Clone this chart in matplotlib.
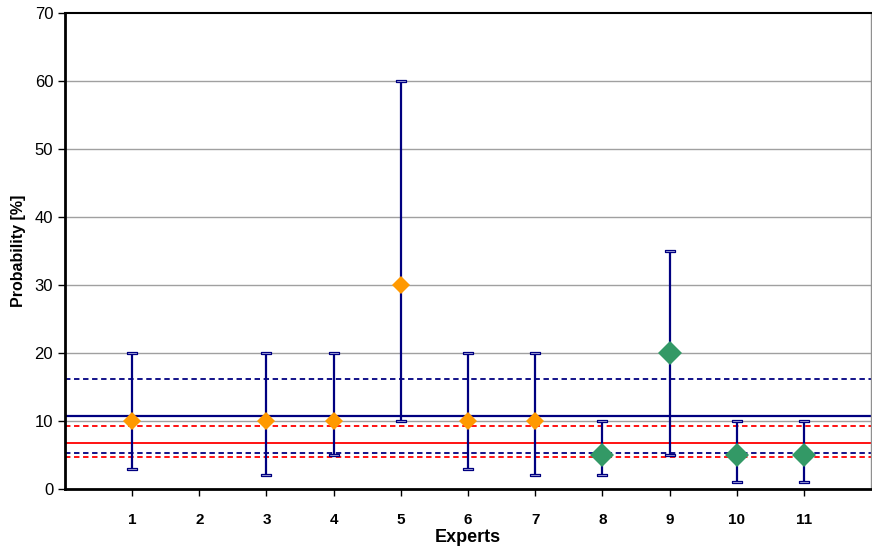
import matplotlib.pyplot as plt
import numpy as np
from matplotlib.path import Path

plt.rcParams['font.family'] = ['Liberation Sans', 'DejaVu Sans']

# expert estimates (most likely value, lower, upper), expert 2 gave none
experts = [1, 3, 4, 5, 6, 7, 8, 9, 10, 11]
best = [10, 10, 10, 30, 10, 10, 5, 20, 5, 5]
low = [3, 2, 5, 10, 3, 2, 2, 5, 1, 1]
high = [20, 20, 20, 60, 20, 20, 10, 35, 10, 10]
group = ['a', 'a', 'a', 'a', 'a', 'a', 'b', 'b', 'b', 'b']

# aggregated values
navy_mean = 10.74
navy_bounds = [16.18, 5.29]
red_mean = 6.81
red_bounds = [9.26, 4.75]

x_labels = [str(i) for i in range(1, 12)]
y_ticks = [0, 10, 20, 30, 40, 50, 60, 70]

navy = '#000080'
fig = plt.figure(figsize=(8.72, 5.49), dpi=100)
ax = fig.add_axes([0.0745, 0.1093, 0.9244, 0.867])

ax.set_xlim(0, 12)
ax.set_ylim(0, 70)

for y in y_ticks[1:-1]:
    ax.axhline(y, color='#a0a0a0', lw=1, zorder=0)

ax.axhline(navy_mean, color=navy, lw=1.6, zorder=1)
for b in navy_bounds:
    ax.axhline(b, color=navy, lw=1.3, ls=(0, (3, 2)), zorder=1)
ax.axhline(red_mean, color='#ff0000', lw=1.3, zorder=1)
for b in red_bounds:
    ax.axhline(b, color='#ff0000', lw=1.3, ls=(0, (3, 2)), zorder=1)

ex = np.array(experts)
ax.vlines(ex, low, high, color=navy, lw=1.6, zorder=2)

cap = Path([(-1, -0.2), (1, -0.2), (1, 0.2), (-1, 0.2), (-1, -0.2)])
ax.scatter(ex, low, marker=cap, s=55, facecolor='#c0c0e8', edgecolor=navy,
           linewidth=0.9, zorder=3)
ax.scatter(ex, high, marker=cap, s=55, facecolor='#c0c0e8', edgecolor=navy,
           linewidth=0.9, zorder=3)

g = np.array(group)
b_ = np.array(best)
ax.plot(ex[g == 'a'], b_[g == 'a'], 'D', color='#ff9900', ms=9.4, mew=0, zorder=4)
ax.plot(ex[g == 'b'], b_[g == 'b'], 'D', color='#339966', ms=12.2, mew=0, zorder=4)

ax.set_xticks(range(1, 12))
ax.set_xticklabels(x_labels, fontweight='bold', fontsize=11)
ax.set_yticks(y_ticks)
ax.tick_params(axis='y', labelsize=12, length=5, width=1, direction='out')
ax.tick_params(axis='x', length=5, width=1, direction='out', pad=12)

ax.spines['left'].set_linewidth(2)
ax.spines['bottom'].set_linewidth(2)
ax.spines['top'].set_linewidth(1.5)
ax.spines['right'].set_color('#909090')
ax.spines['right'].set_linewidth(1)

ax.set_xlabel('Experts', fontweight='bold', fontsize=13, labelpad=2)
ax.set_ylabel('Probability [%]', fontweight='bold', fontsize=11.5, labelpad=6)

fig.savefig('out.png', dpi=100)
